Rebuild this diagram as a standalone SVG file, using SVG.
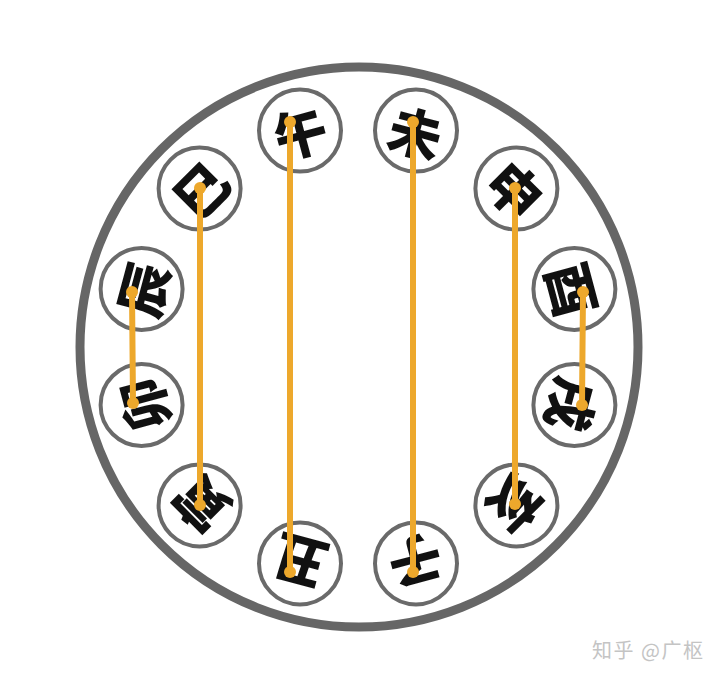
<svg xmlns="http://www.w3.org/2000/svg" width="724" height="681" viewBox="0 0 724 681">
<style>
.node circle{fill:#fff;stroke:#6a6a6a;stroke-width:4}
.node text{font-family:"Noto Sans CJK SC","Noto Sans CJK TC",sans-serif;font-weight:900;font-size:53px;fill:#111;text-anchor:middle;dominant-baseline:central}
.link{stroke:#EDA82C;stroke-width:6;stroke-linecap:round}
.dot{fill:#EDA82C}
.wm{font-family:"Noto Sans CJK SC",sans-serif;font-size:20px;letter-spacing:1.5px;fill:#c4c4c4}
</style>
<rect width="724" height="681" fill="#fff"/>
<ellipse id="outer" cx="359" cy="347" rx="279" ry="280" fill="none" stroke="#666" stroke-width="9"/>
<g id="n-wu" class="node"><circle cx="300" cy="130.6" r="41"/><text x="300" y="130.6" transform="rotate(-15 300 130.6)">午</text></g>
<g id="n-wei" class="node"><circle cx="416" cy="130.6" r="41"/><text x="416" y="130.6" transform="rotate(15 416 130.6)">未</text></g>
<g id="n-shen" class="node"><circle cx="516.4" cy="188.6" r="41"/><text x="516.4" y="188.6" transform="rotate(45 516.4 188.6)">申</text></g>
<g id="n-you" class="node"><circle cx="574.4" cy="289" r="41"/><text x="574.4" y="289" transform="rotate(75 574.4 289)">酉</text></g>
<g id="n-xu" class="node"><circle cx="574.4" cy="405" r="41"/><text x="574.4" y="405" transform="rotate(105 574.4 405)">戌</text></g>
<g id="n-hai" class="node"><circle cx="516.4" cy="505.4" r="41"/><text x="516.4" y="505.4" transform="rotate(135 516.4 505.4)">亥</text></g>
<g id="n-zi" class="node"><circle cx="416" cy="563.4" r="41"/><text x="416" y="563.4" transform="rotate(165 416 563.4)">子</text></g>
<g id="n-chou" class="node"><circle cx="300" cy="563.4" r="41"/><text x="300" y="563.4" transform="rotate(195 300 563.4)">丑</text></g>
<g id="n-yin" class="node"><circle cx="199.6" cy="505.4" r="41"/><text x="199.6" y="505.4" transform="rotate(225 199.6 505.4)">寅</text></g>
<g id="n-mao" class="node"><circle cx="141.6" cy="405" r="41"/><text x="141.6" y="405" transform="rotate(255 141.6 405)">卯</text></g>
<g id="n-chen" class="node"><circle cx="141.6" cy="289" r="41"/><text x="141.6" y="289" transform="rotate(285 141.6 289)">辰</text></g>
<g id="n-si" class="node"><circle cx="199.6" cy="188.6" r="41"/><text x="199.6" y="188.6" transform="rotate(315 199.6 188.6)">巳</text></g>
<g id="connectors">
<line class="link" x1="290" y1="122" x2="290" y2="572"/>
<line class="link" x1="413" y1="122" x2="413" y2="572"/>
<line class="link" x1="200" y1="188" x2="200" y2="505"/>
<line class="link" x1="515" y1="188" x2="515" y2="504"/>
<line class="link" x1="132" y1="292" x2="133" y2="403"/>
<line class="link" x1="583" y1="292" x2="582" y2="405"/>
<circle class="dot" cx="290" cy="122" r="6"/><circle class="dot" cx="290" cy="572" r="6"/>
<circle class="dot" cx="413" cy="122" r="6"/><circle class="dot" cx="413" cy="572" r="6"/>
<circle class="dot" cx="200" cy="188" r="6"/><circle class="dot" cx="200" cy="505" r="6"/>
<circle class="dot" cx="515" cy="188" r="6"/><circle class="dot" cx="515" cy="504" r="6"/>
<circle class="dot" cx="132" cy="292" r="6"/><circle class="dot" cx="133" cy="403" r="6"/>
<circle class="dot" cx="583" cy="292" r="6"/><circle class="dot" cx="582" cy="405" r="6"/>
</g>
<text class="wm" x="592" y="658">知乎 @广枢</text>
</svg>
